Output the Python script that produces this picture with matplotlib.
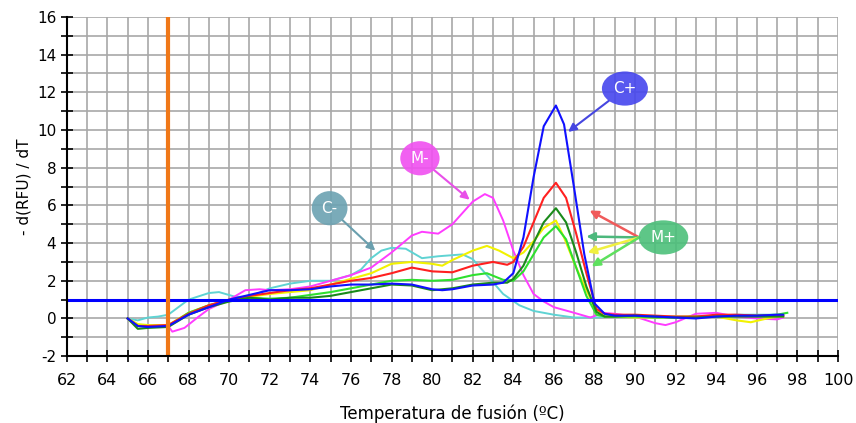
import numpy as np
import matplotlib
matplotlib.use("Agg")
import matplotlib.pyplot as plt

plt.rcParams['axes.unicode_minus'] = False

# curvas de fusion: temperatura (ºC) y -d(RFU)/dT
t_cpos = [65, 65.5, 66, 67, 67.5, 68, 69, 70, 71, 72, 73, 74, 75, 76, 77, 78, 79, 80, 80.5, 81, 82, 83, 83.5,
          84, 84.5, 85, 85.5, 86.1, 86.5, 87, 87.5, 88, 88.5, 89, 90, 91, 92, 93, 94, 95, 96, 97, 97.3]
v_cpos = [0.0, -0.4, -0.45, -0.4, -0.1, 0.2, 0.6, 1.0, 1.25, 1.5, 1.5, 1.55, 1.7, 1.8, 1.8, 1.85, 1.8, 1.55, 1.5, 1.55,
          1.75, 1.8, 1.9, 2.4, 4.3, 7.5, 10.2, 11.3, 10.3, 6.9, 3.4, 0.8, 0.25, 0.15, 0.15, 0.1, 0.05, 0.0, 0.1, 0.15,
          0.15, 0.2, 0.2]

t_red = [65, 65.5, 66, 67, 68, 69, 70, 71, 72, 73, 74, 75, 76, 77, 78, 79, 80, 81, 82, 83, 83.7, 84, 84.5, 85, 85.5,
         86.1, 86.6, 87.1, 87.6, 88.1, 88.5, 89, 90, 91, 92, 93, 94, 95, 96, 97, 97.3]
v_red = [0.0, -0.4, -0.4, -0.35, 0.25, 0.7, 1.0, 1.2, 1.35, 1.5, 1.6, 1.8, 2.0, 2.15, 2.4, 2.7, 2.5, 2.45, 2.8, 3.0,
         2.85, 3.0, 3.8, 5.1, 6.4, 7.2, 6.4, 4.5, 2.4, 0.5, 0.25, 0.2, 0.2, 0.15, 0.1, 0.1, 0.2, 0.2, 0.15, 0.15, 0.15]

t_dgreen = [65, 65.5, 66, 67, 68, 69, 70, 71, 72, 73, 74, 75, 76, 77, 78, 79, 80, 81, 82, 83, 83.7, 84, 84.5, 85,
            85.5, 86.1, 86.6, 87.1, 87.6, 88.1, 88.5, 89, 90, 91, 92, 93, 94, 95, 96, 97, 97.3]
v_dgreen = [0.0, -0.55, -0.5, -0.45, 0.2, 0.6, 0.9, 1.1, 1.0, 1.1, 1.1, 1.2, 1.4, 1.6, 1.8, 1.75, 1.5, 1.6, 1.8, 1.9,
            1.9, 2.1, 2.8, 4.0, 5.1, 5.85, 5.1, 3.5, 1.7, 0.35, 0.1, 0.1, 0.15, 0.1, 0.05, 0.05, 0.1, 0.1, 0.1, 0.1,
            0.1]

t_green = [65, 65.5, 66, 67, 68, 69, 70, 71, 72, 73, 74, 75, 76, 77, 78, 79, 80, 81, 82, 82.7, 83.5, 84, 84.5, 85,
           85.5, 86.1, 86.6, 87.1, 87.6, 88.1, 88.5, 89, 90, 91, 92, 93, 94, 95, 96, 97, 97.5]
v_green = [0.0, -0.4, -0.4, -0.4, 0.3, 0.7, 0.95, 1.1, 1.05, 1.1, 1.25, 1.4, 1.6, 1.8, 2.0, 2.05, 2.0, 2.05, 2.3, 2.4,
           2.05, 2.0, 2.5, 3.4, 4.3, 4.9, 4.2, 2.7, 1.2, 0.2, 0.1, 0.1, 0.1, 0.05, 0.05, 0.1, 0.1, 0.15, 0.15, 0.2, 0.3]

t_yellow = [65, 65.5, 66, 67, 68, 69, 70, 71, 72, 73, 74, 75, 76, 77, 78, 79, 80, 80.5, 81, 82, 82.7, 83.3, 84, 84.5,
            85, 85.5, 86.1, 86.5, 87.1, 87.6, 88.1, 88.5, 89, 90, 91, 92, 93, 94, 95, 95.7, 96.5, 97, 97.3]
v_yellow = [0.0, -0.3, -0.35, -0.35, 0.3, 0.7, 1.0, 1.15, 1.3, 1.4, 1.5, 1.8, 2.1, 2.4, 2.9, 3.0, 2.9, 2.8, 3.1, 3.6,
            3.85, 3.6, 3.2, 3.5, 4.1, 4.8, 5.2, 4.3, 2.7, 1.5, 0.4, 0.1, 0.1, 0.05, 0.05, 0.1, 0.1, 0.1, -0.1, -0.2,
            0.0, 0.1, 0.1]

t_mneg = [65, 65.5, 66, 67, 67.2, 67.8, 68.5, 69, 70, 70.8, 71.5, 72, 73, 74, 75, 76, 77, 78, 79, 79.5, 80.3, 81, 82,
          82.6, 83, 83.5, 84, 84.5, 85, 85.5, 86, 87, 87.8, 88.4, 89, 90, 91, 91.5, 92, 93, 94, 95, 96, 97, 97.3]
v_mneg = [0.0, -0.35, -0.4, -0.4, -0.7, -0.5, 0.1, 0.5, 1.0, 1.5, 1.55, 1.5, 1.55, 1.7, 2.0, 2.3, 2.7, 3.5, 4.4, 4.6,
          4.5, 5.0, 6.2, 6.6, 6.4, 5.2, 3.6, 2.3, 1.3, 0.9, 0.6, 0.3, 0.05, 0.3, 0.25, 0.1, -0.25, -0.35, -0.2, 0.25,
          0.3, 0.1, 0.0, -0.05, 0.05]

t_cneg = [65, 65.5, 66, 66.5, 67, 67.5, 68, 69, 69.5, 70.3, 71, 72, 73, 74, 75, 76, 76.5, 77, 77.5, 78, 78.7, 79.5,
          80.3, 81.5, 82, 82.7, 83.5, 84.3, 85, 86, 87, 88, 89, 90, 91, 92, 93, 94, 95, 96, 97, 97.3]
v_cneg = [0.0, -0.1, 0.05, 0.1, 0.2, 0.6, 1.0, 1.35, 1.4, 1.15, 1.15, 1.6, 1.85, 2.0, 2.0, 2.3, 2.6, 3.2, 3.6, 3.75,
          3.7, 3.2, 3.3, 3.4, 3.15, 2.3, 1.3, 0.7, 0.4, 0.2, 0.05, 0.05, 0.1, 0.1, 0.1, 0.1, 0.1, 0.15, 0.2, 0.2, 0.2,
          0.15]

umbral = 1.0
t_corte = 67

fig, ax = plt.subplots(figsize=(8.56, 4.23), dpi=100)
fig.subplots_adjust(left=0.078, right=0.979, top=0.960, bottom=0.158)

ax.plot(t_cneg, v_cneg, color="#5fd3d3", lw=1.4, zorder=3)
ax.plot(t_mneg, v_mneg, color="#ff3cff", lw=1.4, zorder=3)
ax.plot(t_yellow, v_yellow, color="#f2f200", lw=1.5, zorder=3)
ax.plot(t_green, v_green, color="#2ee02e", lw=1.5, zorder=3)
ax.plot(t_red, v_red, color="#ff2020", lw=1.5, zorder=4)
ax.plot(t_dgreen, v_dgreen, color="#1a8a1a", lw=1.5, zorder=4)
ax.plot(t_cpos, v_cpos, color="#1010ff", lw=1.5, zorder=5)

ax.axhline(umbral, color="#0000ff", lw=2.2, zorder=6)
ax.axvline(t_corte, color="#f07818", lw=3, zorder=6)

ax.set_xlim(62, 100)
ax.set_ylim(-2, 16)
ax.set_xticks(np.arange(62, 101, 1), minor=True)
ax.set_xticks(np.arange(62, 101, 2))
ax.set_yticks(np.arange(-2, 17, 1), minor=True)
ax.set_yticks(np.arange(-2, 17, 2))
ax.grid(True, which="both", color="#a8a8a8", lw=1.2)
ax.set_axisbelow(True)
for s in ["top", "right"]:
    ax.spines[s].set_visible(False)
for s in ["left", "bottom"]:
    ax.spines[s].set_linewidth(1.5)
    ax.spines[s].set_zorder(7)
ax.tick_params(which="both", direction="inout", length=8, width=1.2, labelsize=11)
ax.tick_params(axis="x", pad=8, labelsize=11.5)

ax.set_xlabel("Temperatura de fusión (ºC)", fontsize=12, labelpad=12)
ax.set_ylabel("- d(RFU) / dT", fontsize=11, labelpad=4)

# etiquetas con flechas
def etiqueta(texto, xy_txt, xy_pt, fc, ac):
    ax.annotate(texto, xy=xy_pt, xytext=xy_txt, color="white", fontsize=11, ha="center", va="center", zorder=10,
                bbox=dict(boxstyle="ellipse,pad=0.3", fc=fc, ec="none", alpha=0.9),
                arrowprops=dict(arrowstyle="-|>", color=ac, lw=1.5, mutation_scale=12, shrinkA=0, shrinkB=0))

etiqueta("C+", (89.5, 12.2), (86.7, 9.9), "#4646ee", "#4646e0")
etiqueta("M-", (79.4, 8.5), (81.85, 6.3), "#f050f0", "#e850e8")
etiqueta("C-", (74.95, 5.85), (77.2, 3.6), "#6ca2b2", "#6a9fae")

mpos_origen = (90.2, 4.3)
mpos_destinos = [(87.76, 5.73), (87.6, 4.35), (87.66, 3.5), (87.86, 2.76)]
mpos_colores = ["#f05a5a", "#4cb87c", "#f0f040", "#5ee05e"]
for dest, col in zip(mpos_destinos, mpos_colores):
    ax.annotate("", xy=dest, xytext=mpos_origen, zorder=9,
                arrowprops=dict(arrowstyle="-|>", color=col, lw=1.8, mutation_scale=12, shrinkA=0, shrinkB=0))
ax.text(91.4, 4.3, "M+", color="white", fontsize=11, ha="center", va="center", zorder=10,
        bbox=dict(boxstyle="ellipse,pad=0.3", fc="#4cc07a", ec="none", alpha=0.9))

plt.savefig("out.png", dpi=100)
